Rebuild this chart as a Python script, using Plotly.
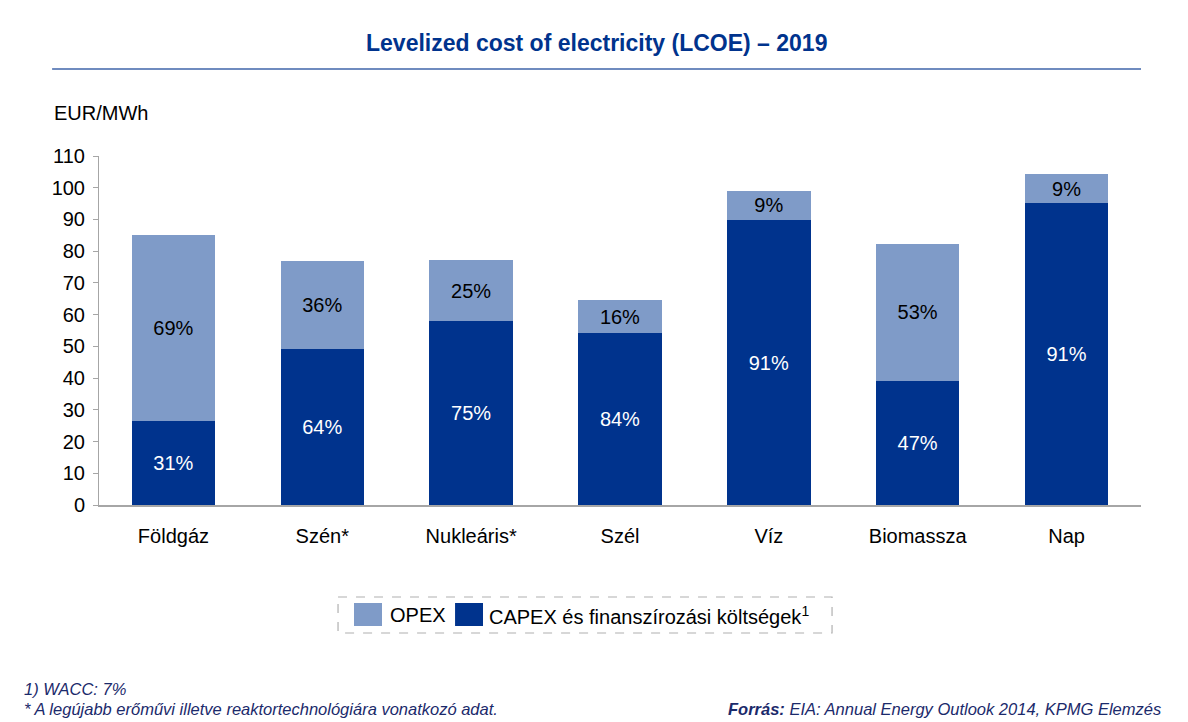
import plotly.graph_objects as go

categories = ["Földgáz", "Szén*", "Nukleáris*", "Szél", "Víz", "Biomassza", "Nap"]
capex = [26.5, 49.2, 58.0, 54.2, 89.8, 39.1, 95.2]
opex = [58.6, 27.7, 19.2, 10.4, 9.2, 43.2, 9.1]
capex_labels = ["31%", "64%", "75%", "84%", "91%", "47%", "91%"]
opex_labels = ["69%", "36%", "25%", "16%", "9%", "53%", "9%"]
y_ticks = list(range(0, 111, 10))

CAPEX_COL = "#00338D"
OPEX_COL = "#7F9BC8"
NOTE_COL = "#1B2A6B"
FONT = "Liberation Sans, Arial, sans-serif"

fig = go.Figure()

fig.add_trace(go.Bar(
    x=categories, y=capex, name="CAPEX és finanszírozási költségek<sup>1</sup>",
    marker=dict(color=CAPEX_COL, line=dict(width=0)),
    text=capex_labels, textposition="inside", insidetextanchor="middle",
    textfont=dict(color="white", size=20, family=FONT),
    showlegend=False,
))
fig.add_trace(go.Bar(
    x=categories, y=opex, name="OPEX",
    marker=dict(color=OPEX_COL, line=dict(width=0)),
    text=opex_labels, textposition="inside", insidetextanchor="middle",
    textfont=dict(color="black", size=20, family=FONT),
    showlegend=False,
))

# hand-made legend (dashed box, big swatches) + rule under the title
shapes = [
    dict(type="line", xref="paper", yref="paper", x0=-0.045, x1=1.0, y0=1.2494, y1=1.2494,
         line=dict(color="#6F8BBF", width=2)),
    dict(type="rect", xref="paper", yref="paper", x0=0.2294, x1=0.7035, y0=-0.2636, y1=-0.3668,
         line=dict(color="#B0B0B0", width=1.2, dash="dash")),
    dict(type="rect", xref="paper", yref="paper", x0=0.2447, x1=0.2716, y0=-0.2808, y1=-0.3467,
         fillcolor=OPEX_COL, line=dict(width=0)),
    dict(type="rect", xref="paper", yref="paper", x0=0.3417, x1=0.3685, y0=-0.2808, y1=-0.3467,
         fillcolor=CAPEX_COL, line=dict(width=0)),
]

annotations = [
    dict(text="<b>Levelized cost of electricity (LCOE) – 2019</b>", xref="paper", yref="paper",
         x=0.477, y=1.3238, xanchor="center", yanchor="middle", showarrow=False,
         font=dict(size=23, color=CAPEX_COL, family=FONT)),
    dict(text="EUR/MWh", xref="paper", yref="paper", x=-0.045, y=1.123, xanchor="left",
         yanchor="middle", showarrow=False, font=dict(size=20, color="black", family=FONT)),
    dict(text="OPEX", xref="paper", yref="paper", x=0.2774, y=-0.3152, xanchor="left",
         yanchor="middle", showarrow=False, font=dict(size=20, color="black", family=FONT)),
    dict(text="CAPEX és finanszírozási költségek<sup style='font-size:13px'>1</sup>",
         xref="paper", yref="paper", x=0.3725, y=-0.3152, xanchor="left", yanchor="middle",
         showarrow=False, font=dict(size=20, color="black", family=FONT)),
    dict(text="<i>1) WACC: 7%</i>", xref="paper", yref="paper", x=-0.074, y=-0.527,
         xanchor="left", yanchor="middle", showarrow=False,
         font=dict(size=16.5, color=NOTE_COL, family=FONT)),
    dict(text="<i>* A legújabb erőművi illetve reaktortechnológiára vonatkozó adat.</i>",
         xref="paper", yref="paper", x=-0.074, y=-0.585, xanchor="left", yanchor="middle",
         showarrow=False, font=dict(size=16.5, color=NOTE_COL, family=FONT)),
    dict(text="<b><i>Forrás:</i></b><i> EIA: Annual Energy Outlook 2014, KPMG Elemzés</i>",
         xref="paper", yref="paper", x=1.021, y=-0.585, xanchor="right", yanchor="middle",
         showarrow=False, font=dict(size=16.5, color=NOTE_COL, family=FONT)),
]

# page body has an 8px margin, so the figure is 8px smaller and starts 8px in
fig.update_layout(
    barmode="stack",
    bargap=0.44,
    width=1180, height=714,
    margin=dict(l=91, r=47, t=148, b=217),
    paper_bgcolor="white", plot_bgcolor="white",
    font=dict(family=FONT, size=20, color="black"),
    shapes=shapes,
    annotations=annotations,
    uniformtext=dict(minsize=10, mode="show"),
    xaxis=dict(showline=True, linecolor="#A6A6A6", linewidth=1.5, ticks="",
               showgrid=False, tickfont=dict(size=20, color="black"), ticklabelstandoff=12),
    yaxis=dict(range=[0, 110], tickvals=y_ticks, showline=True, linecolor="#A6A6A6",
               linewidth=1, ticks="outside", ticklen=5, tickcolor="#A6A6A6",
               showgrid=False, zeroline=False, tickfont=dict(size=20, color="black"),
               ticklabelstandoff=4),
)

fig.write_html("out.html")
